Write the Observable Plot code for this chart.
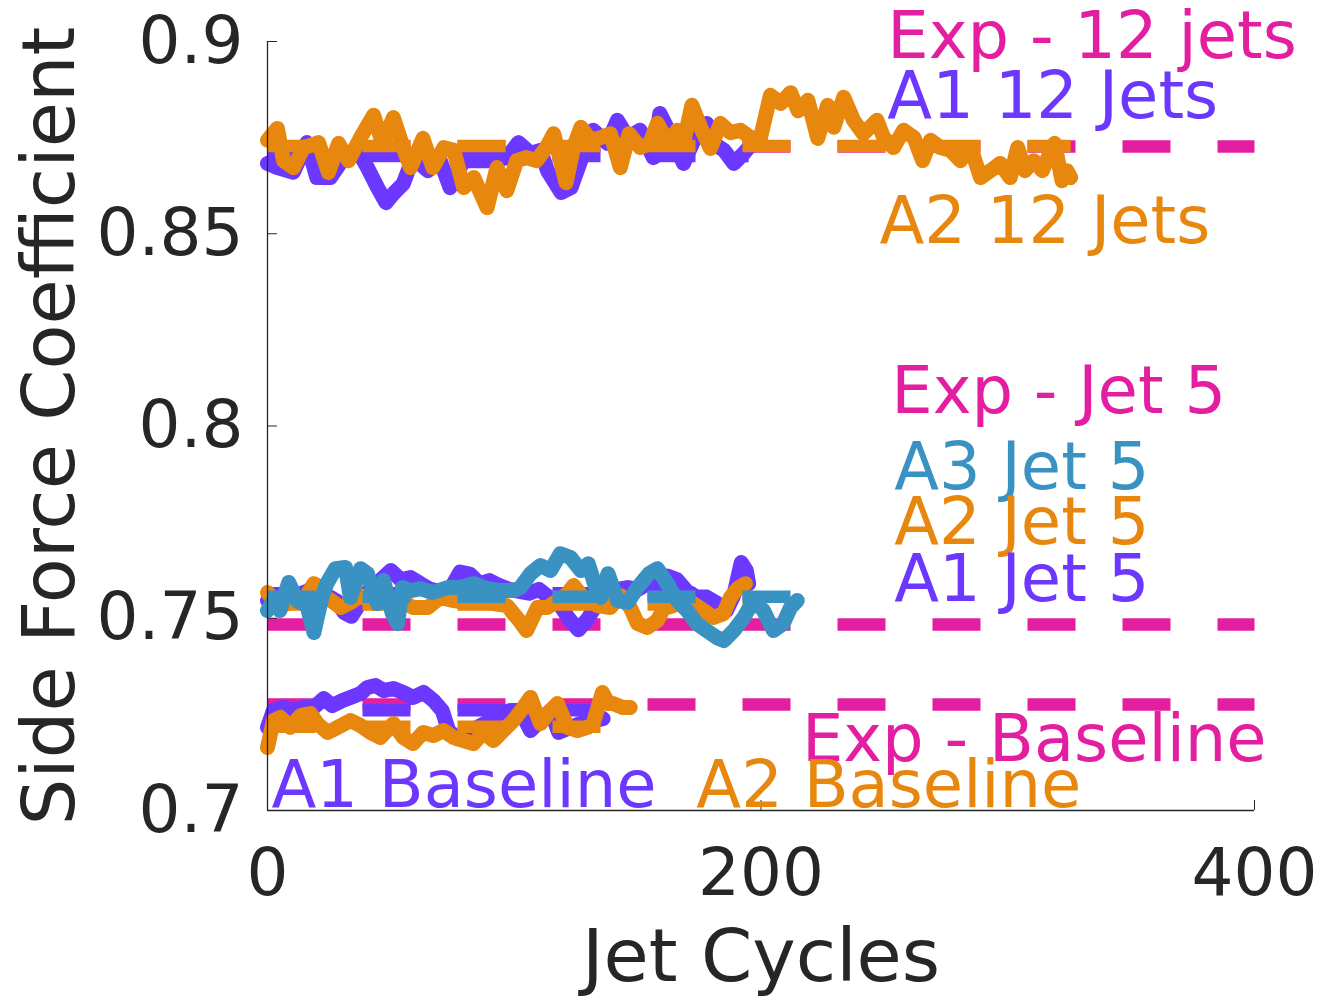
<!DOCTYPE html>
<html>
<head>
<meta charset="utf-8">
<script src="https://cdn.jsdelivr.net/npm/d3@7"></script>
<script src="https://cdn.jsdelivr.net/npm/@observablehq/plot@0.6"></script>
<style>
  html, body { margin: 0; padding: 0; background: #fff; overflow: hidden; }
  #chart svg { display: block; }
</style>
</head>
<body>
<div id="chart"></div>
<script>
// ---------- axes ----------
const xDomain = [0, 400];
const yDomain = [0.7, 0.9];
const xTicks = [0, 200, 400];
const yTicks = [0.7, 0.75, 0.8, 0.85, 0.9];
const xLabel = "Jet Cycles";
const yLabel = "Side Force Coefficient";

// ---------- experimental reference levels ----------
const expNames = ["Exp - 12 jets", "Exp - Jet 5", "Exp - Baseline"];
const expLevels = [0.8727, 0.7484, 0.7276];

// ---------- simulation series (cycles, coefficient) ----------
const a1_12_x = [0, 4, 10.5, 16, 20, 25.5, 31, 36.5, 40.5, 44.6, 48, 51, 55, 59, 65, 70, 74, 79.5, 85, 91.6, 97, 101.7, 106.6, 110.6, 113.5, 119, 123, 128, 132, 137.8, 141.8, 146, 151, 156.4, 159, 164.5, 168.6, 174, 178, 180.8, 185, 189, 193, 195];
const a1_12_y = [0.8683, 0.8672, 0.8660, 0.8737, 0.8646, 0.8646, 0.8698, 0.8717, 0.8672, 0.8620, 0.8581, 0.8604, 0.8630, 0.8698, 0.8664, 0.8690, 0.8620, 0.8690, 0.8690, 0.8690, 0.8698, 0.8737, 0.8709, 0.8717, 0.8664, 0.8607, 0.8620, 0.8709, 0.8769, 0.8735, 0.8795, 0.8750, 0.8769, 0.8698, 0.8813, 0.8743, 0.8683, 0.8760, 0.8787, 0.8735, 0.8717, 0.8683, 0.8709, 0.8724];

const a2_12_x = [0, 4, 6.5, 10.5, 14.6, 20.7, 24.7, 28.8, 32.8, 37.7, 43, 46.6, 51, 55, 58, 63, 67, 71.5, 75.5, 79.5, 83.6, 89, 93, 97, 101, 105, 109, 113, 116, 121, 124, 127, 131, 135, 139, 143, 146.5, 151, 155, 158, 162.5, 166, 168.6, 172, 175.5, 179.5, 183.6, 187.6, 191.7, 195.7, 199.8, 203.8, 208, 212, 215, 219, 223, 227, 229.5, 233.5, 237.5, 241.5, 247, 249.7, 253.7, 257.8, 262, 265.5, 268.7, 272.7, 276.8, 280.8, 285, 289, 293, 297, 301, 304, 307, 310.5, 314, 317, 319, 322, 324, 325.5];
const a2_12_y = [0.8743, 0.8774, 0.8690, 0.8672, 0.8724, 0.8737, 0.8659, 0.8735, 0.8690, 0.8750, 0.8808, 0.8735, 0.8802, 0.8724, 0.8672, 0.8748, 0.8672, 0.8724, 0.8717, 0.8620, 0.8646, 0.8568, 0.8672, 0.8612, 0.8690, 0.8698, 0.8690, 0.8724, 0.8760, 0.8633, 0.8724, 0.8777, 0.8743, 0.8750, 0.8760, 0.8672, 0.8760, 0.8724, 0.8735, 0.8787, 0.8735, 0.8769, 0.8737, 0.8834, 0.8777, 0.8722, 0.8787, 0.8763, 0.8769, 0.8750, 0.8750, 0.8860, 0.8839, 0.8867, 0.8820, 0.8847, 0.8748, 0.8834, 0.8777, 0.8855, 0.8795, 0.8760, 0.8795, 0.8750, 0.8724, 0.8769, 0.8750, 0.8690, 0.8743, 0.8724, 0.8717, 0.8690, 0.8724, 0.8646, 0.8664, 0.8683, 0.8646, 0.8724, 0.8664, 0.8690, 0.8664, 0.8709, 0.8735, 0.8638, 0.8664, 0.8646];

const a1_j5_x = [0, 4, 8, 12, 16, 20, 24, 28, 31, 34, 38, 42, 46, 50, 54, 58, 62, 66, 70, 74, 78, 82, 86, 90, 94, 98, 102, 106, 110, 114, 118, 122, 126, 130, 134, 138, 142, 146, 150, 154, 158, 162, 166, 170, 174, 178, 182, 186, 189, 192, 194, 195];
const a1_j5_y = [0.7546, 0.7538, 0.7550, 0.7560, 0.7570, 0.7585, 0.7560, 0.7545, 0.7515, 0.7505, 0.7545, 0.7580, 0.7600, 0.7624, 0.7600, 0.7606, 0.7590, 0.7575, 0.7570, 0.7575, 0.7620, 0.7615, 0.7590, 0.7598, 0.7585, 0.7575, 0.7570, 0.7565, 0.7575, 0.7555, 0.7540, 0.7500, 0.7470, 0.7500, 0.7545, 0.7560, 0.7575, 0.7580, 0.7575, 0.7590, 0.7600, 0.7610, 0.7600, 0.7570, 0.7555, 0.7555, 0.7540, 0.7520, 0.7560, 0.7645, 0.7625, 0.7590];

const a2_j5_x = [0, 4, 9.3, 14.6, 18.8, 24, 29.6, 33.6, 37.7, 43, 48.6, 54, 59, 65, 70, 75.5, 81, 86.3, 91.6, 97, 102.5, 105, 109.4, 113.5, 117.5, 121.6, 124, 128, 133.7, 139, 143, 147, 150, 154, 158, 160.5, 164.5, 168.6, 172.6, 176.7, 180.7, 184.8, 187.6, 190.5, 193.7];
const a2_j5_y = [0.7567, 0.7528, 0.7541, 0.7546, 0.7590, 0.7554, 0.7528, 0.7541, 0.7559, 0.7538, 0.7541, 0.7546, 0.7528, 0.7528, 0.7554, 0.7546, 0.7541, 0.7546, 0.7538, 0.7533, 0.7490, 0.7468, 0.7528, 0.7528, 0.7546, 0.7564, 0.7585, 0.7554, 0.7533, 0.7528, 0.7559, 0.7528, 0.7486, 0.7476, 0.7494, 0.7525, 0.7533, 0.7546, 0.7538, 0.7520, 0.7502, 0.7512, 0.7554, 0.7577, 0.7590];

const a3_j5_x = [0, 2.5, 5, 8.6, 12, 16, 18.8, 22, 24, 27.5, 31.6, 33.6, 37.7, 40.5, 44.6, 47, 50.6, 52.7, 54.7, 58, 62, 67, 73, 78, 83.5, 89, 94.4, 99.7, 102.5, 106.6, 110.6, 114.7, 118.7, 122.8, 127, 130, 133, 135, 138, 141.8, 146, 150, 154.6, 158, 162, 166, 170, 174, 178, 182, 185, 189, 193, 197, 201, 205, 209, 212, 214.7];
const a3_j5_y = [0.7520, 0.7546, 0.7520, 0.7593, 0.7546, 0.7533, 0.7463, 0.7554, 0.7590, 0.7629, 0.7632, 0.7554, 0.7629, 0.7616, 0.7538, 0.7598, 0.7512, 0.7486, 0.7580, 0.7572, 0.7577, 0.7567, 0.7580, 0.7580, 0.7590, 0.7577, 0.7572, 0.7572, 0.7580, 0.7616, 0.7637, 0.7624, 0.7668, 0.7658, 0.7624, 0.7642, 0.7580, 0.7554, 0.7616, 0.7546, 0.7541, 0.7580, 0.7616, 0.7629, 0.7590, 0.7546, 0.7520, 0.7486, 0.7468, 0.7450, 0.7442, 0.7468, 0.7502, 0.7546, 0.7520, 0.7468, 0.7486, 0.7528, 0.7546];

const a1_b_x = [0, 2.4, 6.5, 10.6, 14.6, 18.8, 22.8, 26.3, 30.4, 33.6, 37.7, 40.5, 43.8, 47, 51, 55, 59, 63.2, 67.3, 70.8, 73.4, 77, 81, 85, 90.4, 94.4, 98.5, 102.5, 106.6, 110.6, 114.7, 118, 122.8, 126.8, 132, 136];
const a1_b_y = [0.7216, 0.7260, 0.7268, 0.7260, 0.7268, 0.7268, 0.7291, 0.7273, 0.7286, 0.7294, 0.7304, 0.7320, 0.7325, 0.7312, 0.7317, 0.7307, 0.7294, 0.7307, 0.7286, 0.7260, 0.7208, 0.7187, 0.7200, 0.7216, 0.7234, 0.7252, 0.7260, 0.7260, 0.7208, 0.7234, 0.7260, 0.7203, 0.7216, 0.7226, 0.7234, 0.7239];

const a2_b_x = [0, 2.4, 5.3, 9.3, 13.4, 17.4, 20.2, 24.3, 28.4, 33.6, 37.7, 41.7, 45.8, 51, 55, 59, 63, 67.3, 71.3, 75.4, 79.4, 83.5, 87.5, 91.6, 95.6, 99.7, 103.7, 106.6, 110.6, 114.7, 117.5, 121.6, 125.6, 129.7, 132, 135.7, 138.2, 140, 144, 147];
const a2_b_y = [0.7164, 0.7234, 0.7242, 0.7216, 0.7247, 0.7252, 0.7226, 0.7203, 0.7216, 0.7234, 0.7221, 0.7203, 0.7190, 0.7226, 0.7190, 0.7174, 0.7203, 0.7195, 0.7208, 0.7190, 0.7182, 0.7174, 0.7203, 0.7182, 0.7208, 0.7234, 0.7268, 0.7294, 0.7226, 0.7260, 0.7278, 0.7216, 0.7208, 0.7216, 0.7226, 0.7307, 0.7278, 0.7278, 0.7268, 0.7268];

const seriesNames = ["A1 12 Jets", "A2 12 Jets", "A1 Jet 5", "A2 Jet 5", "A3 Jet 5", "A1 Baseline", "A2 Baseline"];
const seriesX = [a1_12_x, a2_12_x, a1_j5_x, a2_j5_x, a3_j5_x, a1_b_x, a2_b_x];
const seriesY = [a1_12_y, a2_12_y, a1_j5_y, a2_j5_y, a3_j5_y, a1_b_y, a2_b_y];
const seriesMeans = [0.8702, 0.8728, 0.7565, 0.7536, 0.7556, 0.7261, 0.7218];
const seriesKind = ["A1", "A2", "A1", "A2", "A3", "A1", "A2"];

// ---------- annotations (data-space anchor of each label's baseline start) ----------
const labelText = ["Exp - 12 jets", "A1 12 Jets", "A2 12 Jets", "Exp - Jet 5", "A3 Jet 5", "A2 Jet 5", "A1 Jet 5", "Exp - Baseline", "A1 Baseline", "A2 Baseline"];
const labelKind = ["Exp", "A1", "A2", "Exp", "A3", "A2", "A1", "Exp", "A1", "A2"];
const labelX = [251.2, 251.2, 248.0, 252.8, 254.0, 254.0, 254.0, 216.6, 1.6, 173.8];
const labelY = [0.8958, 0.8800, 0.8477, 0.8033, 0.7837, 0.7694, 0.7546, 0.7130, 0.7010, 0.7010];

// ---------- styling ----------
const kindColor = {Exp: "#e31ea1", A1: "#6c37ff", A2: "#e8870e", A3: "#3a92c2"};
const ink = "#262626";
const lineW = 15;
const dashW = 12.5;
const dash = "48,47";
const fontFamily = "DejaVu Sans";

const marks = [];

// experimental dashed references (bottom layer)
expLevels.forEach((v) => {
  marks.push(Plot.line([[xDomain[0], v], [xDomain[1], v]], {
    stroke: kindColor.Exp, strokeWidth: dashW, strokeDasharray: dash, strokeLinecap: "butt"
  }));
});

// each series: its trace, then its dashed mean
seriesNames.forEach((name, i) => {
  const xs = seriesX[i], ys = seriesY[i];
  const col = kindColor[seriesKind[i]];
  marks.push(Plot.line(xs.map((x, j) => [x, ys[j]]), {
    stroke: col, strokeWidth: lineW, strokeLinejoin: "round", strokeLinecap: "round"
  }));
  marks.push(Plot.line([[xs[0], seriesMeans[i]], [xs[xs.length - 1], seriesMeans[i]]], {
    stroke: col, strokeWidth: dashW, strokeDasharray: dash, strokeLinecap: "butt"
  }));
});

// axis lines
marks.push(Plot.ruleX([xDomain[0]], {stroke: ink, strokeWidth: 1.3}));
marks.push(Plot.ruleY([yDomain[0]], {stroke: ink, strokeWidth: 1.3}));

// axes with inward ticks
marks.push(Plot.axisX({ticks: xTicks, tickSize: -10, tickPadding: 48, fontSize: 66, stroke: ink, fill: ink, label: null, tickFormat: (d) => String(d)}));
marks.push(Plot.axisY({ticks: yTicks, tickSize: -10, tickPadding: 34, fontSize: 66, stroke: ink, fill: ink, label: null, tickFormat: (d) => String(d)}));

// axis titles
marks.push(Plot.text([xLabel], {frameAnchor: "bottom", textAnchor: "middle", dy: 170, lineAnchor: "bottom", fontSize: 73.5, fill: ink}));
marks.push(Plot.text([yLabel], {frameAnchor: "left", textAnchor: "middle", dx: -194, rotate: -90, lineAnchor: "bottom", fontSize: 73.5, fill: ink}));

// series labels
marks.push(Plot.text(labelText, {
  x: labelX, y: labelY, text: (d) => d,
  fill: labelKind.map((k) => kindColor[k]),
  textAnchor: "start", lineAnchor: "bottom", fontSize: 65.5
}));

const chart = Plot.plot({
  width: 1318,
  height: 999,
  marginLeft: 267,
  marginRight: 64,
  marginTop: 41,
  marginBottom: 189,
  style: {fontFamily, background: "#fff", color: ink, overflow: "visible"},
  x: {domain: xDomain, axis: null},
  y: {domain: yDomain, axis: null},
  marks
});
document.getElementById("chart").appendChild(chart);
</script>
</body>
</html>
